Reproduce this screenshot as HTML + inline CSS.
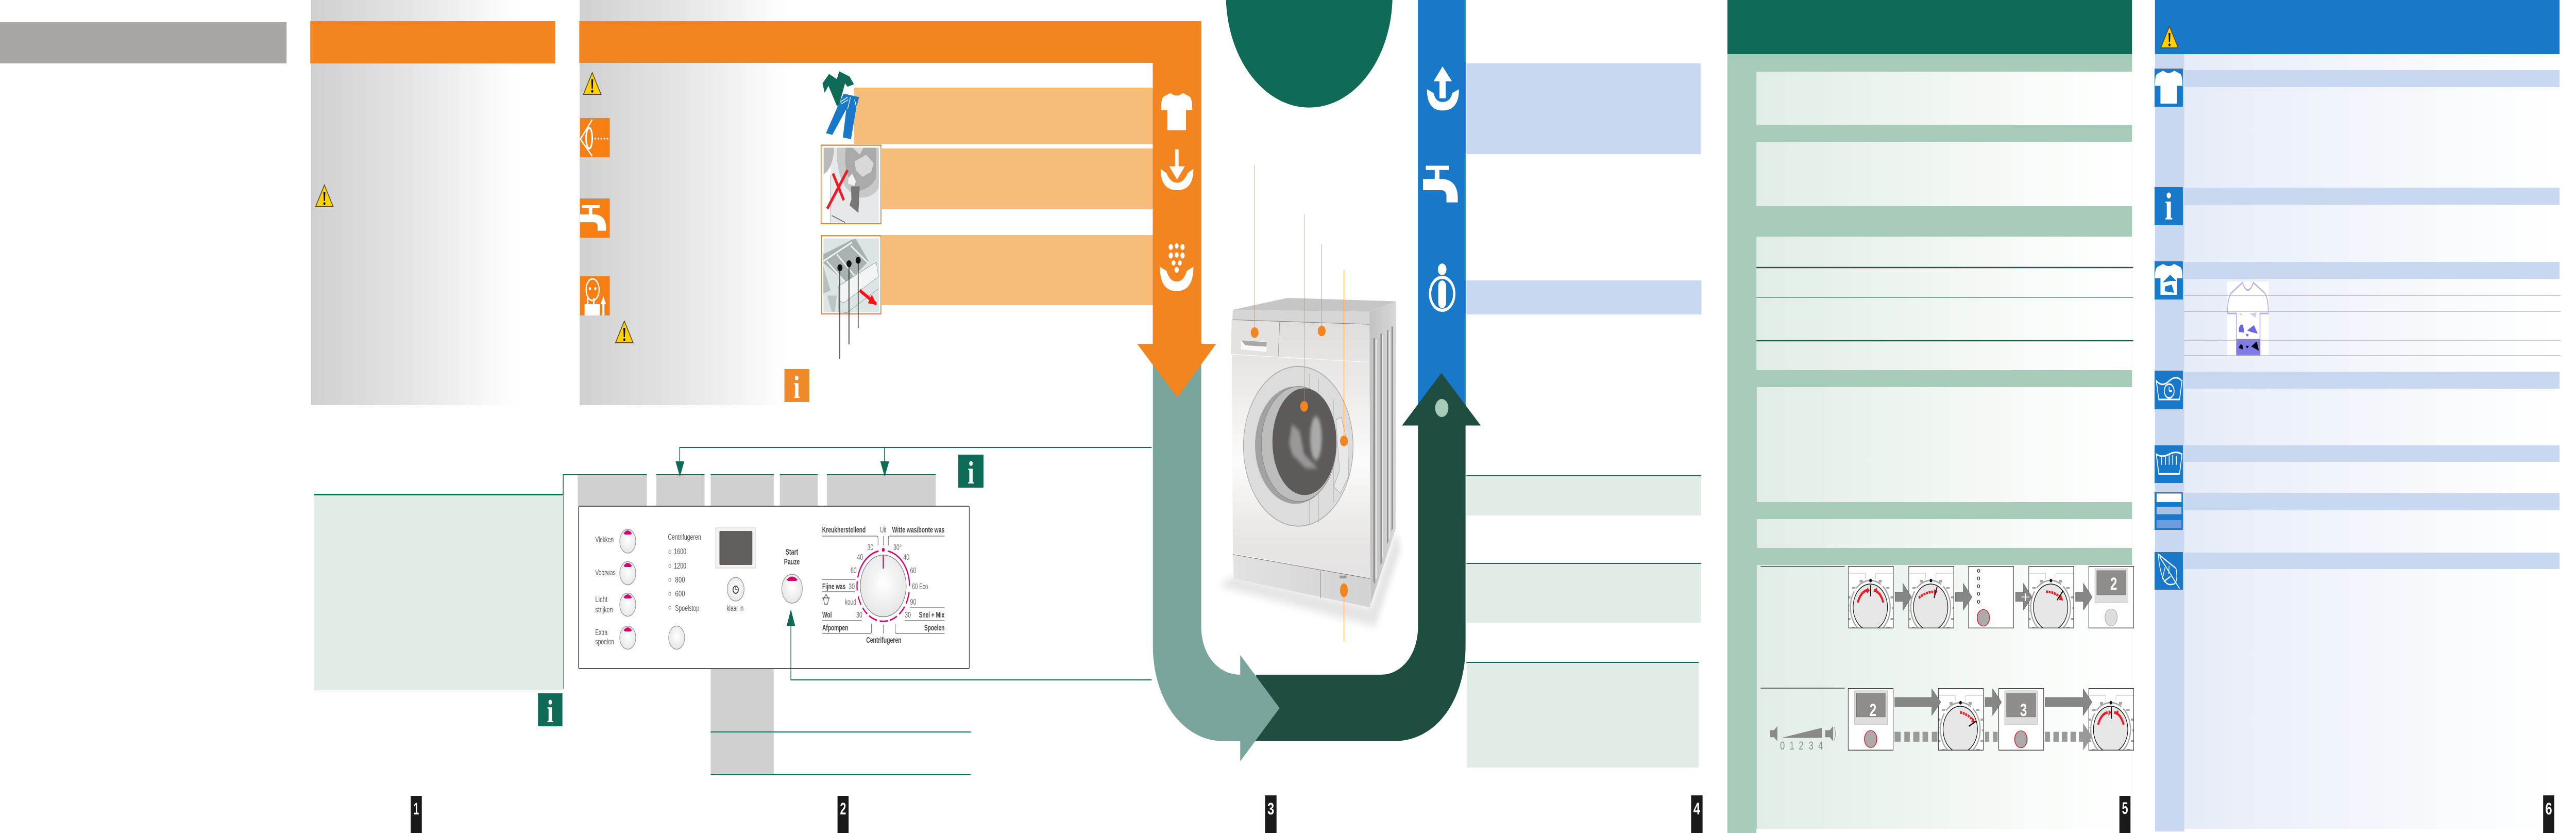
<!DOCTYPE html>
<html><head><meta charset="utf-8"><title>Washing machine guide</title>
<style>html,body{margin:0;padding:0;background:#fff;width:100%;height:1616px;overflow:hidden}svg{display:block;width:100vw;height:1616px}text{font-family:"Liberation Sans",sans-serif}</style></head>
<body>
<svg xmlns="http://www.w3.org/2000/svg" viewBox="0 0 6742 1616" preserveAspectRatio="none">
<defs>
<linearGradient id="gg"><stop offset="0" stop-color="#d0d0d0"/><stop offset=".43" stop-color="#e6e6e6"/><stop offset=".85" stop-color="#fff"/></linearGradient>
<linearGradient id="gn"><stop offset="0" stop-color="#e1ede6"/><stop offset=".9" stop-color="#fdfefd"/><stop offset="1" stop-color="#fff"/></linearGradient>
<linearGradient id="gb"><stop offset="0" stop-color="#e6ecf8"/><stop offset=".85" stop-color="#fcfdfe"/><stop offset="1" stop-color="#fff"/></linearGradient>
<linearGradient id="front" x1="0" y1="0" x2="0" y2="1"><stop offset="0" stop-color="#dedddc"/><stop offset=".32" stop-color="#f0eeec"/><stop offset=".55" stop-color="#fbfbfb"/><stop offset=".85" stop-color="#e8e5e3"/><stop offset="1" stop-color="#e4e4e4"/></linearGradient>
<linearGradient id="side"><stop offset="0" stop-color="#c2c2c2"/><stop offset="1" stop-color="#d8d8d8"/></linearGradient>
<linearGradient id="plinth"><stop offset="0" stop-color="#e2e2e2"/><stop offset="1" stop-color="#d2d2d2"/></linearGradient>
<radialGradient id="btn" cx=".5" cy=".45" r=".6"><stop offset="0" stop-color="#fff"/><stop offset="1" stop-color="#e4e4e4"/></radialGradient>
<filter id="blur" x="-30%" y="-30%" width="160%" height="160%"><feGaussianBlur stdDeviation="9"/></filter>
<filter id="blur2" x="-30%" y="-30%" width="160%" height="160%"><feGaussianBlur stdDeviation="18"/></filter>
<path id="shirt" d="M30 0Q50 14 70 0L92 10Q100 16 100 46L80 46V100H20V46H0Q0 16 8 10Z"/>
<path id="tap" d="M815 312H875V320H850V337H860Q895 340 897 370V381H868V367Q865 358 855 358H808V337H838V320H815Z"/>
<g id="warn"><path d="M24 2L47 44H1Z" fill="#ffd200" stroke="#5a4a1e" stroke-width="2"/><path d="M21.500 15H26.500L25.500 33H22.500Z" fill="#111"/><circle cx="24" cy="38" r="2.800" fill="#111"/></g>
<symbol id="dial" viewBox="0 0 119 121">
<rect width="119" height="121" fill="#fff"/>
<path d="M2 14H43Q45 14 45 17V25M119 14H74Q72 14 72 17V25" fill="none" stroke="#bbb" stroke-width="1"/>
<circle cx="58" cy="80" r="52" fill="none" stroke="#a8a8a8" stroke-width="3" stroke-dasharray="70 6 120 8"/>
<circle cx="58.700" cy="28.300" r="3.500" fill="#111"/>
<g fill="#a4a4a4"><rect x="30" y="27" width="8" height="5"/><rect x="80" y="27" width="8" height="5"/><rect x="10" y="41" width="9" height="3"/><rect x="99" y="41" width="9" height="3"/><rect x="0" y="59" width="6" height="4"/><rect x="111" y="59" width="8" height="4"/><rect x="115" y="80" width="4" height="4"/><rect x="0" y="101" width="6" height="4"/><rect x="111" y="101" width="8" height="4"/><rect x="9" y="118" width="9" height="3"/><rect x="100" y="118" width="9" height="3"/></g>
<rect x="0" y="76" width="5" height="11" fill="#fff" stroke="#999" stroke-width=".8"/>
<circle cx="58" cy="80" r="45" fill="#e6e6e6" stroke="#111" stroke-width="1.600"/>
<rect x=".7" y=".7" width="117.600" height="119.600" fill="none" stroke="#333" stroke-width="1.400"/>
</symbol>
<symbol id="disp" viewBox="0 0 119 121"><rect width="119" height="121" fill="#fff"/><rect x=".7" y=".7" width="117.600" height="119.600" fill="none" stroke="#333" stroke-width="1.400"/></symbol>
</defs>

<rect width="6742" height="1616" fill="#fff"/>

<!-- page 1 grey bar and panel -->
<rect x="0" y="43" width="750" height="80" fill="#a8a5a5"/>
<rect x="814" y="0" width="639" height="786" fill="url(#gg)"/>
<rect x="812" y="41" width="641" height="82" fill="#f2851f"/>
<use href="#warn" transform="translate(825,357)"/>

<!-- page 2 top panel -->
<rect x="1517" y="0" width="640" height="786" fill="url(#gg)"/>
<g fill="#f6bc7b"><rect x="2235" y="170" width="782" height="110"/><rect x="2308" y="288" width="709" height="118"/><rect x="2308" y="456" width="709" height="136"/></g>

<!-- big arrows -->
<rect x="3711" y="0" width="125" height="790" fill="#1978c8"/>
<g transform="translate(2900,0) scale(1.0204,1.0306)">
<path d="M380 1270H700C755 1270 795 1230 795 1180V801H754L855 702L956 801H917V1215C917 1320 840 1395 735 1395H370Z" fill="#204d42"/>
<path d="M115 640V1215C115 1320 195 1395 295 1395H339V1433L440 1333L339 1233V1270C280 1270 239 1230 239 1180V640Z" fill="#7aa59d"/>
</g>
<path d="M1516 41H3144V667H3183L3081 771L2976 667H3017V122H1516Z" fill="#f2851f"/>
<path d="M3208.700 0A218 218 0 0 0 3644.300 0Z" fill="#0f6b56"/>

<!-- icons on the arrows -->
<g transform="translate(2900,0) scale(1.0204,1.0306)" fill="#fff">
<use href="#shirt" transform="translate(136,175) scale(.8,.7)"/>
<path d="M172 281H181V313H197L177 338L157 313H172Z"/>
<path d="M135 318Q150 326 150 326Q160 344 177 344Q194 344 204 326L219 318Q219 358 177 358Q135 358 135 318Z"/>
<g><circle cx="161" cy="465" r="5.500"/><circle cx="176" cy="463" r="5"/><circle cx="191" cy="465" r="5.500"/><circle cx="161" cy="481" r="5.500"/><circle cx="176" cy="480" r="5"/><circle cx="191" cy="481" r="5.500"/><circle cx="168" cy="495" r="5"/><circle cx="184" cy="495" r="5"/><circle cx="176" cy="508" r="5.500"/></g>
<path d="M133 502L150 510Q158 530 176 530Q194 530 202 510L219 502Q219 548 176 548Q133 548 133 502Z"/>
<path d="M858 125L882 153H866V185H850V153H835Z"/>
<path d="M818 168L835 175Q840 192 858 192Q878 192 883 175L900 168Q900 208 858 208Q818 208 818 168Z"/>
<use href="#tap"/>
<circle cx="857" cy="507" r="11"/>
<circle cx="857" cy="553" r="31" fill="none" stroke="#fff" stroke-width="6"/>
<rect x="847" y="528" width="20" height="52" rx="10"/>
<circle cx="856" cy="768" r="17" fill="#a6cbb9"/>
</g>

<!-- left orange icons -->
<use href="#warn" transform="translate(1526,139)"/>
<use href="#warn" transform="translate(1610,621)"/>
<g fill="#f67e12"><rect x="1518" y="229" width="78" height="76"/><rect x="1518" y="385" width="78" height="76"/><rect x="1518" y="536" width="78" height="76"/></g>
<g fill="none" stroke="#fff" stroke-width="3">
<path d="M1519 270L1550 232M1519 270L1550 303"/><ellipse cx="1542" cy="268" rx="8" ry="20" stroke-width="4"/><path d="M1556 269H1595" stroke-dasharray="4 4" stroke-width="3"/>
</g>
<use href="#tap" fill="#fff" transform="translate(1518,398) scale(.766,.72) translate(-808,-312)"/>
<g fill="#fff"><ellipse cx="1551" cy="562" rx="17" ry="21" fill="none" stroke="#fff" stroke-width="3"/><circle cx="1544" cy="560" r="3"/><circle cx="1558" cy="560" r="3"/><path d="M1530 590H1536V578H1540V590H1552V578H1556V590H1570V612H1530Z"/><path d="M1579 574L1586 590H1582V612H1576V590H1572Z"/></g>

<!-- clothes -->
<g transform="translate(2140,130) scale(.3333)">
<path d="M38 95L90 40L150 70L170 25L250 55L285 100L235 115L215 95L165 230L150 225L85 110L55 150Z" fill="#0f6b56"/>
<path d="M205 155L325 175L300 250L262 420L198 410L225 245L115 395L65 385L160 225Z" fill="#1978c8"/>
<path d="M175 205L235 175M185 215L240 190M258 175L235 245M290 190L305 235" stroke="#fff" stroke-width="5" fill="none"/>
<!-- photo 2 -->
<rect x="27" y="455" width="470" height="457" fill="#fff" stroke="#d98a38" stroke-width="7"/>
<rect x="47" y="470" width="433" height="435" fill="#e6e8e9"/>
<rect x="47" y="470" width="56" height="435" fill="#fff"/>
<path d="M47 470H130Q120 590 47 625Z" fill="#b9b9b9"/>
<path d="M103 630V905" stroke="#555" stroke-width="2"/>
<path d="M150 470H480V700Q440 760 340 760Q220 740 170 620Q145 540 150 470Z" fill="#c8c8c8"/>
<path d="M220 470H460V640Q430 700 330 720Q240 680 215 560Z" fill="#aaa"/>
<path d="M290 550L380 510L440 560L420 610L350 640L300 600ZM275 470H360L330 510Z" fill="#d8d8d8"/>
<path d="M240 650L270 620L300 665L290 690L240 680Z" fill="#f2f2f2"/>
<path d="M262 695H330L320 850L250 805L265 770Z" fill="#777"/>
<path d="M112 865L215 905" stroke="#444" stroke-width="4"/>
<path d="M120 620L205 775M235 600L75 825" stroke="#ed1c24" stroke-width="19"/>
<!-- photo 3 -->
<rect x="30" y="982" width="467" height="455" fill="#fff" stroke="#d98a38" stroke-width="7"/>
<rect x="45" y="998" width="437" height="430" fill="#dde4e4"/>
<path d="M45 1090L270 1005L300 1000L400 1130L230 1260L45 1140Z" fill="#a7b3b1"/>
<path d="M45 1130L270 1020M70 1130L220 1255M150 1090L290 1215M260 1040L395 1140" stroke="#f3f5f5" stroke-width="9" fill="none"/>
<path d="M165 1275L460 1135L478 1220L210 1370Q170 1370 165 1340Z" fill="#f3f5f4" stroke="#777" stroke-width="2"/>
<path d="M165 1340V1425L230 1430L478 1290" fill="none" stroke="#777" stroke-width="2"/>
<path d="M45 1160L100 1300L45 1320Z" fill="#b4c0be"/>
<path d="M75 1330H150L135 1425H110Z" fill="#bbc6c4"/>
<path d="M330 1300L460 1380" stroke="#f11" stroke-width="20"/><path d="M425 1325L465 1385L395 1375Z" fill="#f11"/>
<g fill="#111"><circle cx="175" cy="1168" r="20"/><circle cx="246" cy="1145" r="20"/><circle cx="318" cy="1125" r="20"/></g>
</g>
<path d="M2198 519V696M2222 512V668M2246 505V636" stroke="#111" stroke-width="2" fill="none"/>
<rect x="2053" y="716" width="65" height="64" fill="#ef8a2a"/>
<text x="2085" y="772" font-size="62" font-weight="bold" fill="#fff" text-anchor="middle" style="font-family:'Liberation Serif',serif">i</text>

<!-- page 2 control panel -->
<path d="M1474 1336V921H1512M1512 921H1693M1718 921H1844M1860 921H2025M2041 921H2140M2164 921H2449" fill="none" stroke="#0f6b56" stroke-width="2"/>
<g fill="#d0d0d0"><rect x="1512" y="922" width="181" height="60"/><rect x="1718" y="922" width="126" height="60"/><rect x="1860" y="922" width="165" height="60"/><rect x="2041" y="922" width="99" height="60"/><rect x="2164" y="922" width="285" height="60"/><rect x="1860" y="1297" width="165" height="206"/></g>
<rect x="1514" y="982" width="1023" height="315" rx="3" fill="#fff" stroke="#555" stroke-width="2"/>
<path d="M1860 1420H2541M1860 1503H2541" stroke="#1e6a5a" stroke-width="2"/>
<path d="M3014 868H1779V900M2315 868V900M3014 1319H2070V1210" fill="none" stroke="#0f6b56" stroke-width="2"/>
<g fill="#0f6b56"><path d="M1768 895H1791L1779.500 925Z"/><path d="M2304 895H2327L2315.500 925Z"/><path d="M2059 1214H2081L2070 1182Z"/></g>
<rect x="822" y="959" width="652" height="380" fill="#e0ede5"/>
<rect x="822" y="958" width="652" height="3" fill="#0f6b56"/>
<rect x="1408" y="1345" width="64" height="64" fill="#0f6b56"/>
<text x="1440" y="1401" font-size="62" font-weight="bold" fill="#fff" text-anchor="middle" style="font-family:'Liberation Serif',serif">i</text>
<rect x="2508" y="882" width="66" height="64" fill="#0f6b56"/>
<text x="2541" y="938" font-size="62" font-weight="bold" fill="#fff" text-anchor="middle" style="font-family:'Liberation Serif',serif">i</text>

<!-- buttons -->
<g fill="url(#btn)" stroke="#999" stroke-width="1.500">
<ellipse cx="1643" cy="1050" rx="21" ry="23"/><ellipse cx="1643" cy="1112" rx="21" ry="22.500"/><ellipse cx="1643" cy="1173" rx="21" ry="22.500"/><ellipse cx="1643" cy="1237" rx="21" ry="22.500"/><ellipse cx="1771" cy="1237" rx="21" ry="22.500"/><ellipse cx="1925.500" cy="1143" rx="22" ry="23"/><ellipse cx="2073" cy="1142" rx="27" ry="28"/>
</g>
<g fill="#d6006e"><path d="M1632 1035Q1643 1023 1654 1035L1650 1037H1636Z"/><path d="M1632 1098Q1643 1086 1654 1098L1650 1100H1636Z"/><path d="M1632 1159Q1643 1147 1654 1159L1650 1161H1636Z"/><path d="M1632 1223Q1643 1211 1654 1223L1650 1225H1636Z"/><path d="M2058 1125Q2073 1112 2088 1125L2083 1127H2063Z"/></g>
<circle cx="1925.500" cy="1144" r="7" fill="none" stroke="#333" stroke-width="2"/><path d="M1925.500 1139V1144H1930" stroke="#333" stroke-width="1.500" fill="none"/>
<rect x="1873" y="1024" width="105" height="78" fill="#f2f2f2" stroke="#ccc"/>
<rect x="1883" y="1030" width="86" height="66" rx="2" fill="#625e5b"/>
<g fill="none" stroke="#777" stroke-width="1"><circle cx="1753" cy="1071" r="3"/><circle cx="1753" cy="1098" r="3"/><circle cx="1753" cy="1125" r="3"/><circle cx="1753" cy="1152" r="3"/><circle cx="1753" cy="1179" r="3"/></g>
<g font-size="16" fill="#555">
<text x="1558" y="1052" textLength="48" lengthAdjust="spacingAndGlyphs">Vlekken</text>
<text x="1558" y="1116" textLength="53" lengthAdjust="spacingAndGlyphs">Voorwas</text>
<text x="1558" y="1168" textLength="32" lengthAdjust="spacingAndGlyphs">Licht</text>
<text x="1558" y="1188" textLength="46" lengthAdjust="spacingAndGlyphs">strijken</text>
<text x="1558" y="1232" textLength="32" lengthAdjust="spacingAndGlyphs">Extra</text>
<text x="1558" y="1250" textLength="49" lengthAdjust="spacingAndGlyphs">spoelen</text>
<text x="1748" y="1047" textLength="87" lengthAdjust="spacingAndGlyphs">Centrifugeren</text>
<text x="1764" y="1075" textLength="32" lengthAdjust="spacingAndGlyphs">1600</text>
<text x="1764" y="1103" textLength="32" lengthAdjust="spacingAndGlyphs">1200</text>
<text x="1767" y="1130" textLength="26" lengthAdjust="spacingAndGlyphs">800</text>
<text x="1767" y="1157" textLength="26" lengthAdjust="spacingAndGlyphs">600</text>
<text x="1767" y="1185" textLength="63" lengthAdjust="spacingAndGlyphs">Spoelstop</text>
<text x="1902" y="1185" textLength="44" lengthAdjust="spacingAndGlyphs">klaar in</text>
</g>
<g font-size="16" font-weight="bold" fill="#444">
<text x="2056" y="1076" textLength="33" lengthAdjust="spacingAndGlyphs">Start</text>
<text x="2052" y="1095" textLength="41" lengthAdjust="spacingAndGlyphs">Pauze</text>
<text x="2151.700" y="1033" textLength="114" lengthAdjust="spacingAndGlyphs">Kreukherstellend</text>
<text x="2335" y="1033" textLength="137" lengthAdjust="spacingAndGlyphs">Witte was/bonte was</text>
<text x="2152" y="1143" textLength="61" lengthAdjust="spacingAndGlyphs">Fijne was</text>
<text x="2152" y="1198" textLength="25" lengthAdjust="spacingAndGlyphs">Wol</text>
<text x="2405" y="1198" textLength="67" lengthAdjust="spacingAndGlyphs">Snel + Mix</text>
<text x="2152" y="1223" textLength="68" lengthAdjust="spacingAndGlyphs">Afpompen</text>
<text x="2419" y="1223" textLength="53" lengthAdjust="spacingAndGlyphs">Spoelen</text>
<text x="2267" y="1247" textLength="92" lengthAdjust="spacingAndGlyphs">Centrifugeren</text>
</g>
<g font-size="16" fill="#666">
<text x="2303" y="1033" textLength="17" lengthAdjust="spacingAndGlyphs">Uit</text>
<text x="2270" y="1067" textLength="16" lengthAdjust="spacingAndGlyphs">30</text>
<text x="2338" y="1067" textLength="22" lengthAdjust="spacingAndGlyphs">30°</text>
<text x="2243" y="1086" textLength="16" lengthAdjust="spacingAndGlyphs">40</text>
<text x="2364" y="1086" textLength="16" lengthAdjust="spacingAndGlyphs">40</text>
<text x="2226" y="1112" textLength="16" lengthAdjust="spacingAndGlyphs">60</text>
<text x="2382" y="1112" textLength="16" lengthAdjust="spacingAndGlyphs">60</text>
<text x="2221" y="1143" textLength="16" lengthAdjust="spacingAndGlyphs">30</text>
<text x="2387" y="1143" textLength="42" lengthAdjust="spacingAndGlyphs">60 Eco</text>
<text x="2211" y="1173" textLength="30" lengthAdjust="spacingAndGlyphs">koud</text>
<text x="2382" y="1173" textLength="16" lengthAdjust="spacingAndGlyphs">90</text>
<text x="2241" y="1198" textLength="16" lengthAdjust="spacingAndGlyphs">30</text>
<text x="2368" y="1198" textLength="16" lengthAdjust="spacingAndGlyphs">30</text>
</g>
<path d="M2152 1160H2172M2155 1160L2158 1172H2166L2169 1160M2157 1160L2162 1153L2167 1160" fill="none" stroke="#555" stroke-width="1.500"/>
<g fill="none" stroke="#666" stroke-width="1.300">
<path d="M2151.700 1040H2295Q2298 1040 2298 1043V1058M2311.700 1040V1058M2325 1058V1043Q2325 1040 2328 1040H2472"/>
<path d="M2152 1124H2239M2152 1148H2237M2152 1204H2256M2152 1229H2277Q2281 1229 2281 1225V1210M2311.700 1212V1229M2343 1210V1225Q2343 1229 2347 1229H2472M2382 1179H2472M2368 1204H2472"/>
</g>
<circle cx="2311.700" cy="1136.700" r="60" fill="url(#btn)" stroke="#666" stroke-width="1.200"/>
<circle cx="2311.700" cy="1136.700" r="68.700" fill="none" stroke="#d6006e" stroke-width="3" pathLength="360" stroke-dasharray="80 10 20 6 17 6 17 4 18 6 19 5 14 6 15 10 15 6 66 20" transform="rotate(-80 2311.700 1136.700)"/>
<circle cx="2311.700" cy="1066.700" r="3.800" fill="#d6006e"/>
<path d="M2311.700 1077V1103" stroke="#d6006e" stroke-width="3"/>

<!-- washing machine -->
<g transform="translate(3180,560) scale(.3954,.4464)">
<path d="M20 1290L125 1250L1030 1385L1200 1050L1230 1130L1060 1470Z" fill="#e4e4e4" filter="url(#blur2)"/>
<path d="M118 92L480 40L1200 55L1020 100Z" fill="#c6c6c6"/>
<path d="M1022 100L1200 55L1195 1045L1028 1375Z" fill="url(#side)"/>
<g fill="#8f8f8f"><path d="M1048 215H1060L1060 1285L1048 1270Z"/><path d="M1095 195H1105L1105 1190L1095 1200Z"/><path d="M1138 180H1148L1148 1100L1138 1110Z"/><path d="M1168 165H1178L1178 1040L1168 1055Z"/></g>
<g fill="#eee"><path d="M1062 220H1070V1260H1062Z"/><path d="M1107 200H1113V1170H1107Z"/><path d="M1150 185H1156V1085H1150Z"/></g>
<path d="M118 92L1022 100V155L115 135Z" fill="#d6d6d6"/>
<path d="M110 135L1022 155L1028 1260L118 1150Z" fill="url(#front)"/>
<path d="M118 135L1022 155" stroke="#777" stroke-width="2"/>
<path d="M110 138L428 145L418 297L105 285Z" fill="#e4e2e1"/>
<path d="M428 145L418 297" stroke="#777" stroke-width="2"/>
<path d="M105 285L1020 320" stroke="#f8f8f8" stroke-width="3"/>
<path d="M170 225L342 230L340 275L172 264Z" fill="#f8f8f8"/><path d="M175 225L342 232L340 252L200 246Z" fill="#a8a8a8"/>
<path d="M120 1155L1025 1260V1385L125 1260Z" fill="url(#plinth)"/>
<path d="M120 1155L1025 1260M700 1225V1345" stroke="#666" stroke-width="2"/>
<rect x="825" y="1247" width="45" height="12" fill="#999"/>
<ellipse cx="551" cy="685" rx="363" ry="347" fill="#dcdcdc" stroke="#aaa" stroke-width="4"/>
<path d="M625 370V1025M685 392V1020M785 480V930" stroke="#999" stroke-width="1.500" fill="none"/>
<ellipse cx="533" cy="680" rx="268" ry="255" fill="#a2a2a2"/>
<ellipse cx="555" cy="675" rx="248" ry="250" fill="#bdbdbd" stroke="#777" stroke-width="2"/>
<ellipse cx="592" cy="665" rx="212" ry="232" fill="#5e5a5a"/>
<ellipse cx="668" cy="650" rx="38" ry="95" fill="#aaa" filter="url(#blur)"/>
<path d="M510 590L560 620L590 720L680 780L600 780L510 720L490 670Z" fill="#999" filter="url(#blur)"/>
<path d="M800 570L835 558L880 680L885 815L830 890L785 860L825 790Z" fill="#e8e8e8" stroke="#999" stroke-width="2"/>
</g>
<g transform="translate(2900,0) scale(1.0204,1.0306)" fill="#f2851f">
<rect x="375.500" y="310" width="1" height="316"/><rect x="502.500" y="403" width="1" height="362"/><rect x="547.500" y="460" width="1" height="163"/><rect x="604.500" y="508" width="1" height="322"/><rect x="604.500" y="1111" width="1" height="96"/>
<circle cx="376" cy="626" r="10"/><circle cx="548" cy="623" r="10"/><circle cx="503" cy="765" r="10"/><circle cx="605" cy="830" r="10"/><ellipse cx="605" cy="1111" rx="10" ry="13"/>
</g>

<!-- page 4 panels -->
<g fill="#c9d8f1"><rect x="3838" y="123" width="613" height="176"/><rect x="3838" y="544" width="615" height="66"/></g>
<g fill="#e0ede5"><rect x="3838" y="923" width="614" height="77"/><rect x="3838" y="1093" width="614" height="115"/><rect x="3839" y="1285" width="607" height="204"/></g>
<g fill="#0f6b56"><rect x="3838" y="922" width="614" height="2"/><rect x="3838" y="1092" width="614" height="2"/><rect x="3838" y="1284" width="608" height="2"/></g>

<!-- page 5 -->
<rect x="4521" y="105" width="1059" height="1511" fill="#a6cbb9"/>
<rect x="4521" y="0" width="1059" height="105" fill="#0f6b56"/>
<rect x="4597" y="1608" width="983" height="8" fill="#fff"/>
<g fill="url(#gn)"><rect x="4597" y="139" width="983" height="103"/><rect x="4597" y="275" width="983" height="125"/><rect x="4597" y="459" width="983" height="259"/><rect x="4598" y="751" width="982" height="223"/><rect x="4598" y="1007" width="982" height="56"/><rect x="4598" y="1096" width="982" height="512"/></g>
<path d="M4597 519H5583M4597 661H5583" stroke="#1e5a4a" stroke-width="2.500"/>
<path d="M4597 577H5583" stroke="#4c9481" stroke-width="1.500"/>
<path d="M4608 1099H4828M4608 1335H4828" stroke="#444" stroke-width="1.500"/>

<!-- step tiles -->
<use href="#dial" x="4837" y="1098" width="119" height="121"/>
<use href="#dial" x="4995" y="1098" width="119" height="121"/>
<use href="#disp" x="5151" y="1098" width="120" height="121"/>
<use href="#dial" x="5309" y="1098" width="119" height="121"/>
<use href="#disp" x="5466" y="1098" width="119" height="121"/>
<use href="#disp" x="4836" y="1335" width="120" height="121"/>
<use href="#dial" x="5072" y="1335" width="120" height="121"/>
<use href="#disp" x="5230" y="1335" width="120" height="121"/>
<use href="#dial" x="5466" y="1335" width="119" height="121"/>

<g transform="translate(4500,1000) scale(.7334,.3929)">
<g fill="#868686" stroke="#555" stroke-width="1">
<path d="M627 380H655V335L686 403L655 470V425H627Z"/>
<path d="M842 380H870V335L902 403L870 468V425H842Z"/>
<path d="M1057 380H1085V335L1116 403L1085 468V425H1057Z"/>
<path d="M1271 380H1299V335L1331 403L1299 468V425H1271Z"/>
<path d="M626 898H758V855L790 922L758 988V945H626Z"/>
<path d="M948 898H975V855L1007 922L975 988V945H948Z"/>
<path d="M1162 898H1298V855L1330 922L1298 988V945H1162Z"/>
</g>
<g fill="#999">
<rect x="625" y="1068" width="22" height="49"/><rect x="660" y="1068" width="20" height="49"/><rect x="692" y="1068" width="22" height="49"/><rect x="725" y="1068" width="20" height="49"/><rect x="758" y="1068" width="20" height="49"/>
<rect x="948" y="1068" width="15" height="49"/><rect x="977" y="1068" width="16" height="49"/>
<rect x="1162" y="1068" width="18" height="49"/><rect x="1192" y="1068" width="20" height="49"/><rect x="1222" y="1068" width="20" height="49"/><rect x="1253" y="1068" width="20" height="49"/>
<path d="M1283 1068H1298V1025L1330 1092L1298 1160V1117H1283Z"/>
</g>
<path d="M1078 403H1106M1092 385V422" stroke="#fff" stroke-width="4"/>
<!-- displays -->
<g fill="#dedede" stroke="#aaa"><rect x="1340" y="262" width="118" height="170"/><rect x="482" y="865" width="118" height="168"/><rect x="1018" y="865" width="117" height="168"/></g>
<g fill="#8f8c8c" stroke="#555"><rect x="1347" y="272" width="104" height="120"/><rect x="489" y="877" width="103" height="118"/><rect x="1025" y="877" width="104" height="118"/></g>
<ellipse cx="1398" cy="503" rx="22" ry="42" fill="#ddd" stroke="#aaa" stroke-width="2"/>
<g fill="#aaa" stroke="#e01f2d" stroke-width="3"><ellipse cx="942" cy="505" rx="22" ry="41"/><ellipse cx="540" cy="1104" rx="22" ry="42"/><ellipse cx="1076" cy="1105" rx="22" ry="42"/></g>
<g fill="#fff" stroke="#333" stroke-width="2.500"><ellipse cx="925" cy="273" rx="4" ry="8"/><ellipse cx="925" cy="311" rx="4" ry="8"/><ellipse cx="925" cy="349" rx="4" ry="8"/><ellipse cx="925" cy="387" rx="4" ry="8"/><ellipse cx="925" cy="426" rx="4" ry="8"/></g>
<!-- volume -->
<path d="M181 1060H195L207 1040V1115L195 1095H181ZM222 1098L367 1048V1098ZM378 1060H394L406 1040V1115L394 1095H378Z" fill="#8a8a8a"/>
<path d="M410 1045Q418 1078 410 1110" fill="none" stroke="#999" stroke-width="2"/>
</g>
<g font-weight="bold" fill="#fff" font-size="34" text-anchor="middle">
<text x="5532" y="1144" textLength="18" lengthAdjust="spacingAndGlyphs">2</text>
<text x="4902" y="1389" textLength="18" lengthAdjust="spacingAndGlyphs">2</text>
<text x="5296" y="1389" textLength="18" lengthAdjust="spacingAndGlyphs">3</text>
</g>
<g font-size="22" fill="#8a8a8a" text-anchor="middle"><text x="4665" y="1454">0</text><text x="4690" y="1454">1</text><text x="4714" y="1454">2</text><text x="4740" y="1454">3</text><text x="4765" y="1454">4</text></g>

<!-- dial overlays -->
<g fill="none" stroke="#ec1c24" stroke-width="5">
<g transform="translate(4837,1098)"><path d="M25 71Q33 50 50 47"/><path d="M92 71Q85 50 67 47"/></g>
<g transform="translate(5466,1335)"><path d="M25 71Q33 50 50 47"/><path d="M92 71Q85 50 67 47"/></g>
<path d="M5022 1160Q5040 1148 5063 1148" stroke-dasharray="5 2"/>
<path d="M5355 1148Q5378 1148 5394 1160" stroke-dasharray="5 2"/>
<path d="M5130 1382Q5150 1385 5163 1397" stroke-dasharray="5 2"/>
</g>
<g fill="#ec1c24">
<path d="M4887 1140L4894 1145L4886 1152Z"/><path d="M4912 1140L4905 1145L4913 1152Z"/>
<path d="M5519 1377L5526 1382L5518 1389Z"/><path d="M5544 1377L5537 1382L5545 1389Z"/>
<path d="M5062 1143L5071 1148L5062 1155Z"/><path d="M5394 1154L5400 1165L5389 1164Z"/><path d="M5163 1391L5170 1402L5159 1401Z"/>
</g>
<g stroke="#111" stroke-width="2.500">
<path d="M4896 1135V1157M5526 1372V1394"/>
<path d="M5070 1138L5062 1160M5400 1146L5384 1164M5172 1399L5153 1409"/>
</g>

<!-- page 6 -->
<rect x="5640" y="105" width="77" height="1508" fill="#c9d8f1"/>
<rect x="5717" y="105" width="982" height="1503" fill="url(#gb)"/>
<rect x="5640" y="0" width="1059" height="105" fill="#1978c8"/>
<g fill="#c9d8f1"><rect x="5717" y="136" width="982" height="33"/><rect x="5717" y="364" width="982" height="33"/><rect x="5717" y="508" width="982" height="33"/><rect x="5717" y="721" width="982" height="33"/><rect x="5717" y="864" width="982" height="32"/><rect x="5717" y="957" width="982" height="33"/><rect x="5717" y="1072" width="982" height="32"/></g>
<g fill="#1978c8"><rect x="5639" y="133" width="74" height="74"/><rect x="5639" y="363" width="74" height="74"/><rect x="5639" y="507" width="74" height="74"/><rect x="5639" y="719" width="74" height="75"/><rect x="5639" y="864" width="74" height="73"/><rect x="5639" y="955" width="74" height="73"/><rect x="5639" y="1071" width="74" height="73"/></g>
<use href="#warn" transform="translate(5654,49)"/>
<use href="#shirt" fill="#fff" transform="translate(5640,137) scale(.72,.64)"/>
<text x="5676" y="426" font-size="75" font-weight="bold" fill="#fff" text-anchor="middle" style="font-family:'Liberation Serif',serif">i</text>
<use href="#shirt" fill="#fff" transform="translate(5640,512) scale(.72,.6)"/>
<path d="M5660 548L5680 533L5696 545L5682 545ZM5666 556L5684 552L5690 568L5666 565Z" fill="#1978c8"/>
<g transform="translate(5620,0) scale(.7156,1.0306)" fill="none" stroke="#fff" stroke-width="3">
<path d="M33 717Q55 730 80 717Q105 705 127 717L118 752H42Z"/><ellipse cx="80" cy="736" rx="18" ry="13"/><path d="M80 736V728M80 736H90"/>
<path d="M33 855Q55 862 80 855Q105 848 127 855L118 892H42Z"/>
<path d="M52 858V875M66 856V875M80 856V875M93 856V875M106 858V875"/>
<path d="M40 1043L105 1070Q115 1100 90 1100Q50 1105 40 1043ZM45 1048L118 1108M65 1068L55 1090M85 1085L60 1095M80 1065L78 1080" stroke-width="2.500"/>
</g>
<g transform="translate(5620,0) scale(.7156,1.0306)">
<rect x="34" y="929" width="91" height="16" fill="#fff"/><rect x="34" y="954" width="91" height="14" fill="#a9c0e6"/><rect x="34" y="979" width="91" height="15" fill="#6d9bdd"/>
<rect x="292" y="530" width="152" height="139" fill="#fff"/>
<path d="M348 532Q368 560 388 532L430 552Q444 565 442 590H412V668H326V590H294Q292 565 306 552Z" fill="none" stroke="#b5b0e6" stroke-width="3"/>
<rect x="326" y="638" width="87" height="30" fill="#7f7be8"/>
<path d="M335 590Q355 598 345 590ZM375 590L400 588L395 598Z" fill="#cfcdf2"/>
<path d="M335 618Q340 608 350 612L355 626L335 625ZM365 622L390 612L404 628L380 625ZM360 628L372 630L365 634Z" fill="#6a66e0"/>
<path d="M335 655Q340 645 348 650L350 658ZM360 651H372L365 656ZM380 652L400 643L408 660Z" fill="#000"/>
</g>
<path d="M5717 573H6702M5717 604H6702M5717 660H6702M5717 690H6702" stroke="#999" stroke-width="1"/>

<!-- page numbers -->
<g fill="#1a1a1a"><rect x="1075" y="1544" width="29" height="72"/><rect x="2192" y="1544" width="29" height="72"/><rect x="3311" y="1543" width="30" height="73"/><rect x="4426" y="1543" width="30" height="73"/><rect x="5547" y="1544" width="29" height="72"/><rect x="6656" y="1543" width="29" height="73"/></g>
<g fill="#fff" font-size="32" font-weight="bold" text-anchor="middle">
<text x="1089.500" y="1580" textLength="14" lengthAdjust="spacingAndGlyphs">1</text>
<text x="2206.500" y="1580" textLength="16" lengthAdjust="spacingAndGlyphs">2</text>
<text x="3326" y="1580">3</text>
<text x="4441" y="1580">4</text>
<text x="5561.500" y="1579" textLength="16" lengthAdjust="spacingAndGlyphs">5</text>
<text x="6670.500" y="1580">6</text>
</g>
</svg>
</body></html>
